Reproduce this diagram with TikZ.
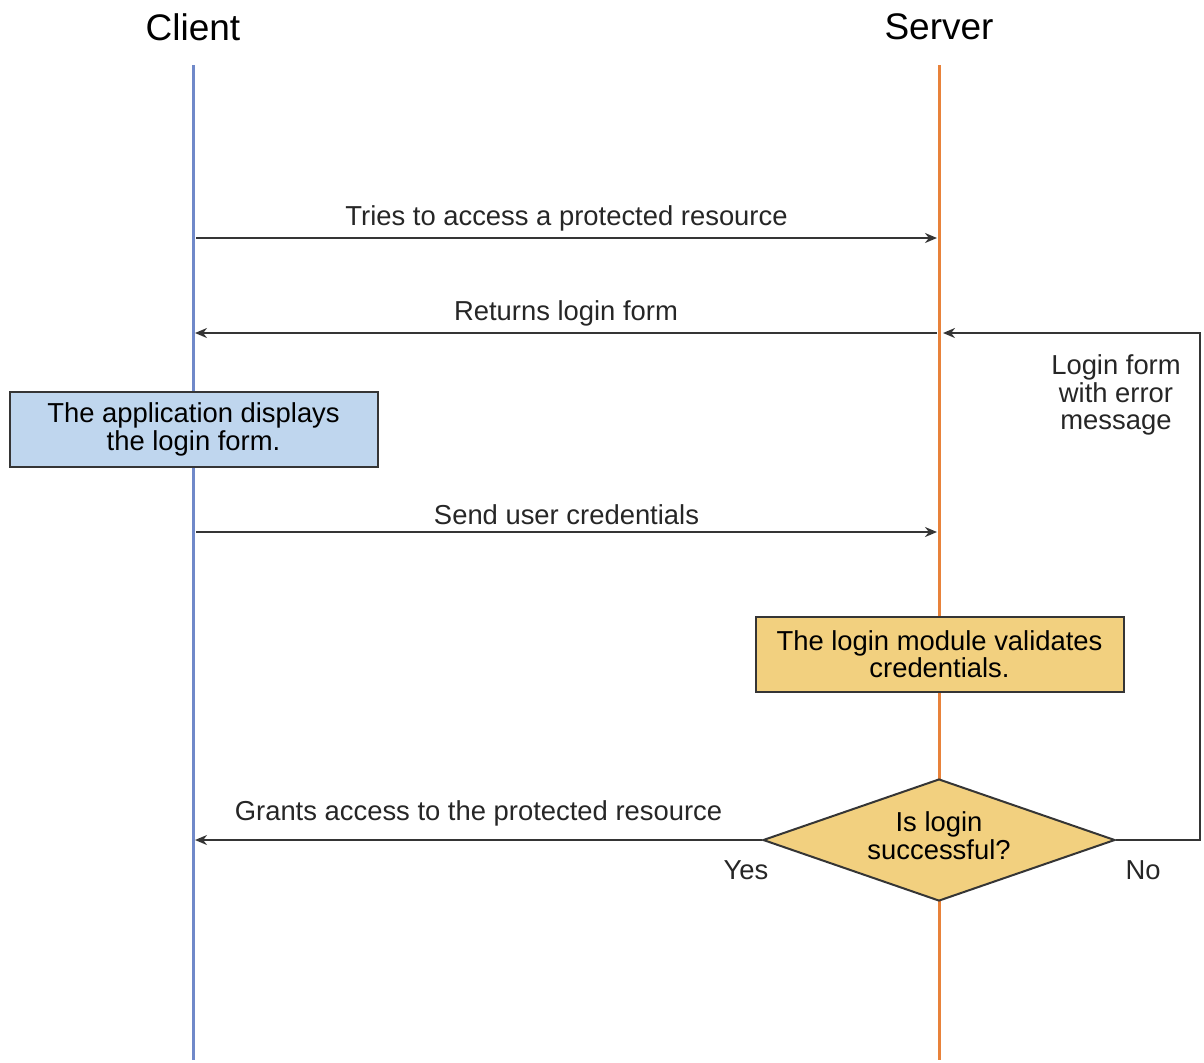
\documentclass[tikz,border=0pt]{standalone}
\usepackage{fontspec}
\setmainfont{Liberation Sans}
\usetikzlibrary{arrows.meta,shapes.geometric}
\definecolor{ClientBlue}{HTML}{7089C9}
\definecolor{ServerOrange}{HTML}{E8823A}
\definecolor{NoteBlue}{HTML}{BFD6EE}
\definecolor{NoteGold}{HTML}{F2D07F}
\definecolor{LineGray}{HTML}{353535}

\begin{document}
\begin{tikzpicture}[
  x=0.5pt, y=-0.5pt,
  >={Stealth[length=6pt,width=5pt]},
  head/.style={font=\fontsize{18.5}{20}\selectfont},
  life/.style={line width=1.5pt},
  msg/.style={->, line width=0.9pt, draw=LineGray},
  lbl/.style={font=\fontsize{13.7}{13.6}\selectfont, text=black!85, inner sep=3pt},
  note/.style={draw=LineGray, line width=1pt, align=center, minimum width=184pt,
    minimum height=37.5pt, inner sep=0pt, font=\fontsize{13.7}{13.6}\selectfont},
  decide/.style={diamond, draw=LineGray, line width=1pt, fill=NoteGold, aspect=2.9,
    minimum width=176pt, minimum height=61pt, inner sep=0pt,
    font=\fontsize{13.7}{13.6}\selectfont}
]
\useasboundingbox (0,0) rectangle (1204,1062);

% lifelines
\node[head] (client) at (193,27) {Client};
\node[head] (server) at (939,27) {Server};
\coordinate (cTop) at (193,65);
\coordinate (cEnd) at (193,1060);
\coordinate (sTop) at (939,65);
\coordinate (sEnd) at (939,1060);
\draw[life, ClientBlue] (cTop) -- (cEnd);
\draw[life, ServerOrange] (sTop) -- (sEnd);

% notes and decision
\node[note, fill=NoteBlue] (display) at (193.5,429.5) {The application displays\\the login form.};
\node[note, fill=NoteGold] (validate) at (939.5,654.5) {The login module validates\\credentials.};
\node[decide] (check) at (939,840)
  {\raisebox{3.5pt}{\begin{tabular}{@{}c@{}}Is login\\successful?\end{tabular}}};

% message points
\coordinate (c1) at (196,238);
\coordinate (s1) at (937,238);
\coordinate (s2) at (937,333);
\coordinate (c2) at (195,333);
\coordinate (c3) at (196,532);
\coordinate (s3) at (937,532);
\coordinate (c4) at (195,840);
\coordinate (sR) at (943,333);
\coordinate (loop) at (1200,840);

% messages
\draw[msg] (c1) -- node[lbl, above] {Tries to access a protected resource} (s1);
\draw[msg] (s2) -- node[lbl, above] {Returns login form} (c2);
\draw[msg] (c3) -- node[lbl, above] {Send user credentials} (s3);
\draw[msg] (check.west) -- node[lbl, above, yshift=3.5pt] {Grants access to the protected resource} (c4);
\draw[msg] (check.east) -- (loop) |- (sR);

\node[lbl, align=center] (errmsg) at (1116,395) {Login form\\with error\\message};
\node[lbl] (yes) at (746,870) {Yes};
\node[lbl] (no) at (1143,870) {No};
\end{tikzpicture}
\end{document}
